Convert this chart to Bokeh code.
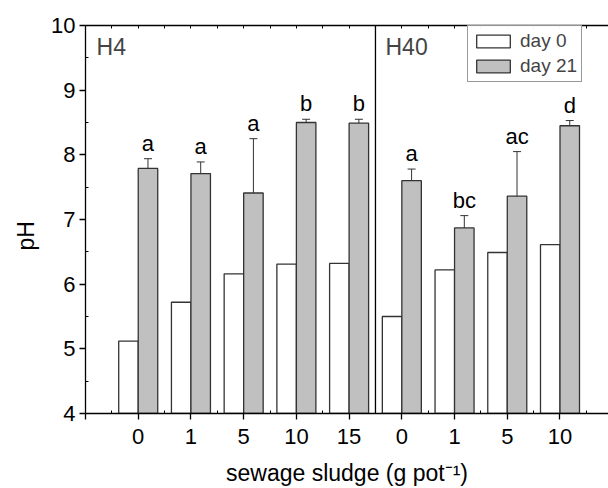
from bokeh.plotting import figure
from bokeh.models import (ColumnDataSource, FixedTicker, LinearAxis, Range1d, Whisker,
                          TeeHead, Span, Label, Legend, LegendItem, Title)
from bokeh.core.properties import value
from bokeh.embed import file_html
from bokeh.resources import INLINE

# data
doses = ["0", "1", "5", "10", "15", "0", "1", "5", "10"]
groups = ["H4", "H40"]
day0 = [5.12, 5.72, 6.16, 6.31, 6.32, 5.50, 6.22, 6.49, 6.61]
day21 = [7.79, 7.71, 7.41, 8.50, 8.49, 7.60, 6.87, 7.36, 8.45]
day21_err = [0.15, 0.18, 0.84, 0.05, 0.06, 0.18, 0.19, 0.69, 0.08]
letters = ["a", "a", "a", "b", "b", "a", "bc", "ac", "d"]
series = ["day 0", "day 21"]

FONT = "Liberation Sans"
pos = list(range(1, len(doses) + 1))
bw = 0.37

src = ColumnDataSource(dict(
    x0=[p - bw / 2 for p in pos],
    x21=[p + bw / 2 for p in pos],
    d0=day0, d21=day21,
    up=[v + e for v, e in zip(day21, day21_err)],
    lo=[v - e for v, e in zip(day21, day21_err)],
    let=letters,
))

p = figure(width=608, height=488, output_backend="svg", toolbar_location=None,
           x_range=Range1d(0, 9.92), y_range=Range1d(4, 10),
           min_border_left=85, min_border_right=0, min_border_top=25, min_border_bottom=75)
p.outline_line_color = None
p.grid.visible = False
p.background_fill_color = "white"

r0 = p.vbar(x="x0", top="d0", bottom=4, width=bw, source=src, fill_color="white",
            line_color="#333333", line_width=1.3)
r21 = p.vbar(x="x21", top="d21", bottom=4, width=bw, source=src, fill_color="#c0c0c0",
             line_color="#333333", line_width=1.3)

w = Whisker(base="x21", upper="up", lower="lo", source=src, line_color="#333333", line_width=1,
            upper_head=TeeHead(size=8, line_color="#333333", line_width=1),
            lower_head=TeeHead(size=8, line_color="#333333", line_width=1))
p.add_layout(w)

p.text(x="x21", y="up", text="let", source=src, text_align="center", text_baseline="bottom",
       y_offset=-3, text_font_size="22px", text_font=value(FONT), text_color="black")

# separator
p.add_layout(Span(location=5.5, dimension="height", line_color="black", line_width=1.3))

# group labels
p.add_layout(Label(x=0.21, y=9.87, text=groups[0], text_baseline="top", text_font=FONT,
                   text_font_size="23px"))
p.add_layout(Label(x=5.69, y=9.87, text=groups[1], text_baseline="top", text_font=FONT,
                   text_font_size="23px"))

# y-axis title
p.add_layout(Title(text="pH", align="left", offset=163, text_font=FONT,
                   text_font_size="23px", text_font_style="normal", text_color="black",
                   standoff=19), "left")

# axes
xt = FixedTicker(ticks=[0] + pos, minor_ticks=[i + 0.5 for i in range(0, 10)])
p.xaxis.ticker = xt
p.xaxis.major_label_overrides = {0: ""} | {i + 1: d for i, d in enumerate(doses)}
p.xaxis.axis_label = "sewage sludge (g pot\u207b\u00b9)"
yt = FixedTicker(ticks=[4, 5, 6, 7, 8, 9, 10], minor_ticks=[4.5, 5.5, 6.5, 7.5, 8.5, 9.5])
p.yaxis.ticker = yt

for ax in (p.xaxis[0], p.yaxis[0]):
    ax.axis_line_color = "black"
    ax.axis_line_width = 1.3
    ax.major_tick_out = 6
    ax.major_tick_in = 0
    ax.minor_tick_in = 3
    ax.minor_tick_out = 0
    ax.major_tick_line_width = 1.3
    ax.major_label_text_font = FONT
    ax.major_label_text_font_size = "22px"
    ax.major_label_text_color = "black"
    ax.axis_label_text_font = FONT
    ax.axis_label_text_font_size = "23px"
    ax.axis_label_text_font_style = "normal"
    ax.axis_label_text_color = "black"
p.xaxis.major_label_standoff = 9
p.xaxis.axis_label_standoff = 13
p.yaxis.major_label_standoff = 4

top = LinearAxis(ticker=FixedTicker(ticks=[], minor_ticks=[i * 0.5 for i in range(1, 20)]),
                 major_label_text_font_size="0px", axis_line_color="black", axis_line_width=1.3,
                 major_tick_in=0, major_tick_out=0, minor_tick_in=3, minor_tick_out=0)
p.add_layout(top, "above")

leg = Legend(items=[LegendItem(label=series[0], renderers=[r0]),
                    LegendItem(label=series[1], renderers=[r21])],
             location=(382, 331), orientation="vertical",
             label_text_font=FONT, label_text_font_size="19px",
             glyph_width=42, glyph_height=16, spacing=3, padding=4, margin=0,
             label_standoff=6, border_line_color="#333333", border_line_width=1,
             label_height=20)
p.add_layout(leg)

open("out.html", "w").write(file_html(p, INLINE))
